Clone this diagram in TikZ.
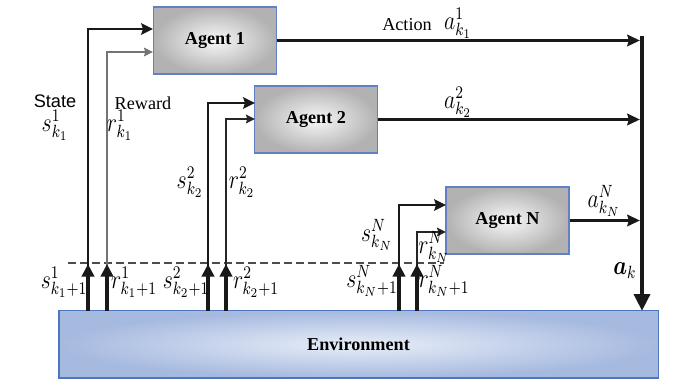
\documentclass[tikz,border=0pt]{standalone}
\usepackage[no-math]{fontspec}
\setmainfont{Liberation Serif}
\newfontfamily\statefont{Liberation Sans}
\usepackage{bm}
\usepackage{graphicx}
\usetikzlibrary{arrows.meta,shadings}
\newcommand{\mymath}[1]{\scalebox{1}[1.22]{$#1$}}
\definecolor{agentblue}{RGB}{96,130,196}
\definecolor{envblue}{RGB}{79,116,192}
\definecolor{envOut}{RGB}{166,185,223}
\definecolor{envIn}{RGB}{232,238,248}
\definecolor{agentgray}{RGB}{178,178,178}
\definecolor{agentlight}{RGB}{248,248,248}
\tikzset{
  agent/.style={draw=agentblue, line width=0.7pt, inner color=agentlight, outer color=agentgray,
    minimum width=67.6pt, minimum height=36.9pt, inner sep=0pt, font=\bfseries},
  env/.style={draw=envblue, line width=0.6pt, inner color=envIn, outer color=envOut,
    minimum width=329.5pt, minimum height=36.9pt, inner sep=0pt, font=\bfseries},
  stline/.style={line width=1.4pt, black!90, -{Stealth[length=6.5pt,width=6.3pt,inset=1pt]}},
  rwline/.style={line width=0.75pt, black!85, -{Stealth[length=5pt,width=4.8pt,inset=0.8pt]}},
  rwgray/.style={rwline, gray!90!black},
  actline/.style={line width=1.15pt, black!90, -{Stealth[length=7pt,width=6.5pt,inset=1pt]}},
  upthick/.style={line width=1.8pt, black!90, -{Triangle[length=7pt,width=6.8pt]}},
  barline/.style={line width=2.5pt, black!90, -{Triangle[length=9.3pt,width=8.6pt]}},
  dashln/.style={line width=0.6pt, black!70, dash pattern=on 4.4pt off 2.2pt},
  lab/.style={inner sep=0pt, anchor=center},
  mlab/.style={inner sep=0pt, anchor=center, font=\large}
}
\begin{document}
\begin{tikzpicture}[x=0.55pt,y=-0.55pt]
\useasboundingbox (0,0) rectangle (673,388);

% boxes
\node[agent] (A1) at (215,40.5) {Agent 1};
\node[agent] (A2) at (316,119.5) {Agent 2};
\node[agent] (AN) at (507.5,220.5) {Agent N};
\node[env] (E) at (358.5,344.5) {Environment};

% coordinates
\coordinate (bt) at (642,36);
\coordinate (bb) at (642,311);
\coordinate (dl) at (68,263);
\coordinate (dr) at (444,263);

\coordinate (s1) at (88,311);  \coordinate (s1t) at (88,264);  \coordinate (s1in) at (153,29);
\coordinate (r1) at (107,311); \coordinate (r1t) at (107,264); \coordinate (r1in) at (153,52);
\coordinate (s2) at (208,311); \coordinate (s2t) at (208,264); \coordinate (s2in) at (255,103);
\coordinate (r2) at (226,311); \coordinate (r2t) at (226,264); \coordinate (r2in) at (255,119);
\coordinate (sN) at (399,311); \coordinate (sNt) at (399,264); \coordinate (sNin) at (446,205);
\coordinate (rN) at (417,311); \coordinate (rNt) at (417,264); \coordinate (rNin) at (446,232);

% dashed line
\draw[dashln] (dl) -- (dr);

% state / reward lines
\draw[stline] (s1) |- (s1in);
\draw[rwgray] (r1) |- (r1in);
\draw[stline] (s2) |- (s2in);
\draw[rwline] (r2) |- (r2in);
\draw[stline] (sN) |- (sNin);
\draw[rwline] (rN) |- (rNin);

% thick arrows from environment
\draw[upthick] (s1) -- (s1t);
\draw[upthick] (r1) -- (r1t);
\draw[upthick] (s2) -- (s2t);
\draw[upthick] (r2) -- (r2t);
\draw[upthick] (sN) -- (sNt);
\draw[upthick] (rN) -- (rNt);

% action arrows
\draw[actline] (A1.east) -- ([xshift=-1.2pt]A1.east -| bt);
\draw[actline] (A2.east) -- ([xshift=-1.2pt]A2.east -| bt);
\draw[actline] (AN.east) -- ([xshift=-1.2pt]AN.east -| bt);

% bar to environment
\draw[barline] (bt) -- (bb);

% labels
\node[lab] (lstate) at (55,101) {\statefont State};
\node[mlab] (ls1) at (55,125) {\mymath{s^{1}_{k_1}}};
\node[lab] (lrew) at (143,103) {Reward};
\node[mlab] (lr1) at (120,125) {\mymath{r^{1}_{k_1}}};
\node[mlab] (ls2) at (190,182) {\mymath{s^{2}_{k_2}}};
\node[mlab] (lr2) at (242,182) {\mymath{r^{2}_{k_2}}};
\node[mlab] (lsN) at (377,235) {\mymath{s^{N}_{k_N}}};
\node[mlab] (lrN) at (434,247) {\mymath{r^{N}_{k_N}}};

\node[mlab] (ls1n) at (64,282) {\mymath{s^{1}_{k_1+1}}};
\node[mlab] (lr1n) at (134,282) {\mymath{r^{1}_{k_1+1}}};
\node[mlab] (ls2n) at (186,282) {\mymath{s^{2}_{k_2+1}}};
\node[mlab] (lr2n) at (256,282) {\mymath{r^{2}_{k_2+1}}};
\node[mlab] (lsNn) at (372,281) {\mymath{s^{N}_{k_N+1}}};
\node[mlab] (lrNn) at (444,281) {\mymath{r^{N}_{k_N+1}}};

\node[lab] (lact) at (407,25) {Action};
\node[mlab] (la1) at (458,23) {\mymath{a^{1}_{k_1}}};
\node[mlab] (la2) at (458,102) {\mymath{a^{2}_{k_2}}};
\node[mlab] (laN) at (604,201) {\mymath{a^{N}_{k_N}}};
\node[mlab] (lak) at (625,271) {\mymath{\bm{a}_k}};
\end{tikzpicture}
\end{document}
